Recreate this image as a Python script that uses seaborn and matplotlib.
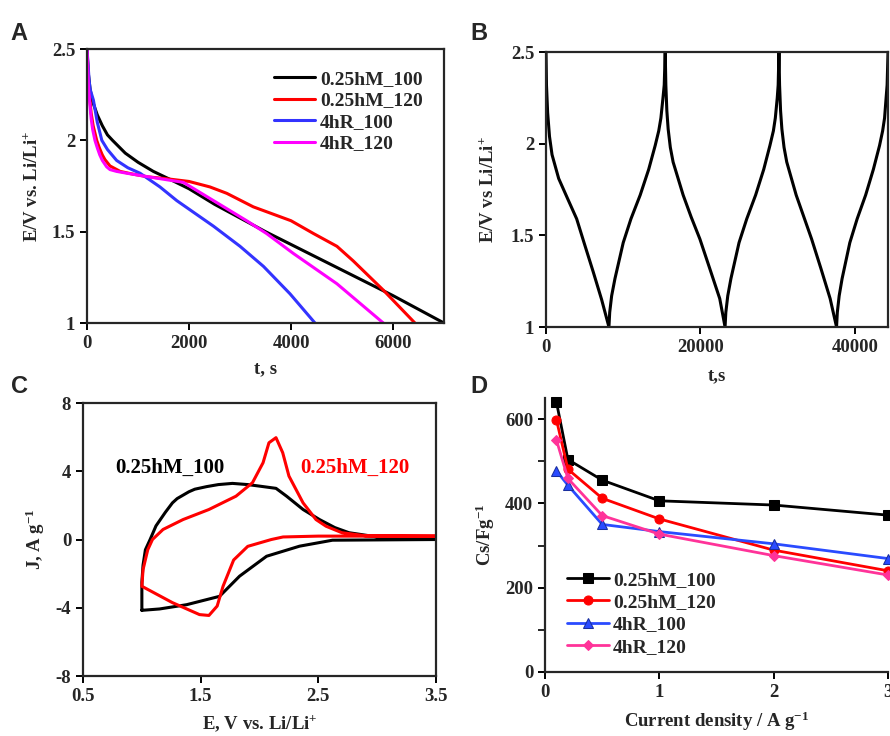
import numpy as np
import pandas as pd
import matplotlib
matplotlib.use("Agg")
import matplotlib.pyplot as plt
import seaborn as sns

# ---------------- Data ----------------
# Panel A: discharge curves (t in s, E in V)
a_labels = ["0.25hM_100", "0.25hM_120", "4hR_100", "4hR_120"]
a_colors = ["#000000", "#ff0000", "#3333ff", "#ff00ff"]
a_t_black = [0, 20, 60, 100, 150, 200, 300, 400, 500, 750, 1000, 1300, 1600, 2000, 2500, 3000, 3500, 4000, 5000, 6000, 7000]
a_v_black = [2.5, 2.38, 2.28, 2.22, 2.18, 2.14, 2.08, 2.03, 2.0, 1.93, 1.88, 1.83, 1.79, 1.735, 1.65, 1.575, 1.5, 1.43, 1.29, 1.15, 1.0]
a_t_red = [0, 30, 80, 120, 190, 240, 300, 350, 450, 650, 900, 1200, 1560, 2000, 2410, 2740, 3260, 4000, 4440, 4900, 5220, 5810, 6430]
a_v_red = [2.5, 2.3, 2.15, 2.08, 2.0, 1.96, 1.92, 1.895, 1.86, 1.83, 1.815, 1.8, 1.79, 1.775, 1.745, 1.71, 1.636, 1.56, 1.49, 1.42, 1.34, 1.18, 1.0]
a_t_blue = [0, 40, 60, 125, 200, 290, 400, 580, 800, 1040, 1430, 1760, 2480, 3000, 3460, 3980, 4470]
a_v_blue = [2.5, 2.33, 2.28, 2.22, 2.1, 2.0, 1.95, 1.89, 1.85, 1.82, 1.745, 1.67, 1.53, 1.42, 1.31, 1.16, 1.0]
a_t_mag = [0, 30, 80, 110, 155, 200, 250, 300, 385, 450, 580, 780, 1300, 1890, 2480, 3130, 3520, 4050, 4900, 5810]
a_v_mag = [2.5, 2.28, 2.12, 2.06, 2.0, 1.96, 1.92, 1.89, 1.855, 1.84, 1.83, 1.82, 1.796, 1.77, 1.67, 1.56, 1.49, 1.38, 1.215, 1.0]

# Panel B: charge/discharge cycling
b_t = [0, 60, 210, 450, 780, 1640, 2800, 3970, 5000, 6120, 7200, 8150,
       8250, 8500, 8930, 10000, 11000, 12200, 13300, 14140, 14600, 14880, 15150, 15310, 15440,
       15520, 15650, 15820, 16100, 16460, 17760, 18800, 19930, 21200, 22500, 23190,
       23290, 23540, 23950, 25000, 26000, 27150, 28200, 29000, 29450, 29700, 29950, 30070, 30170,
       30250, 30380, 30550, 30830, 31180, 32400, 33400, 34400, 35600, 36800, 37630,
       37730, 37970, 38350, 39350, 40300, 41400, 42400, 43200, 43600, 43850, 44050, 44180, 44300]
b_v = [2.5, 2.32, 2.17, 2.04, 1.94, 1.81, 1.70, 1.59, 1.45, 1.30, 1.15, 1.0,
       1.08, 1.17, 1.264, 1.46, 1.59, 1.72, 1.86, 1.99, 2.07, 2.14, 2.25, 2.32, 2.5,
       2.32, 2.18, 2.08, 1.98, 1.90, 1.72, 1.60, 1.48, 1.32, 1.155, 1.0,
       1.08, 1.17, 1.264, 1.46, 1.59, 1.72, 1.86, 1.99, 2.07, 2.14, 2.25, 2.32, 2.5,
       2.32, 2.18, 2.08, 1.98, 1.90, 1.72, 1.60, 1.48, 1.32, 1.155, 1.0,
       1.08, 1.17, 1.264, 1.46, 1.59, 1.72, 1.86, 1.99, 2.07, 2.14, 2.25, 2.32, 2.5]

# Panel C: cyclic voltammograms (E in V, J in A/g)
c_e_black = [1.0, 1.0, 1.01, 1.03, 1.07, 1.12, 1.2, 1.26, 1.3, 1.4, 1.45, 1.55, 1.65, 1.77, 1.9, 2.0, 2.14, 2.23, 2.37, 2.51, 2.64, 2.76, 3.05, 3.5,
             3.5, 2.62, 2.34, 2.06, 1.83, 1.66, 1.38, 1.15, 1.0]
c_j_black = [-4.15, -2.5, -1.5, -0.6, 0.0, 0.8, 1.6, 2.15, 2.4, 2.8, 2.95, 3.1, 3.22, 3.29, 3.22, 3.13, 3.0, 2.54, 1.76, 1.17, 0.7, 0.4, 0.1, 0.0,
             0.0, -0.04, -0.39, -0.98, -2.15, -3.33, -3.82, -4.07, -4.15]
c_e_red = [3.5, 2.9, 2.5, 2.2, 2.1, 1.9, 1.78, 1.69, 1.64, 1.57, 1.49, 1.26, 1.0,
           1.01, 1.05, 1.09, 1.18, 1.35, 1.57, 1.8, 1.94, 2.03, 2.08, 2.14, 2.197, 2.25, 2.37, 2.48, 2.565, 2.7, 2.9, 3.5]
c_j_red = [0.2, 0.2, 0.2, 0.15, 0.0, -0.4, -1.2, -2.74, -3.9, -4.45, -4.4, -3.7, -2.74,
           -1.76, -0.6, 0.0, 0.59, 1.17, 1.76, 2.54, 3.33, 4.5, 5.67, 5.97, 5.09, 3.72, 2.15, 1.17, 0.78, 0.4, 0.22, 0.2]

# Panel D: specific capacitance vs current density
d_current = [0.1, 0.2, 0.5, 1, 2, 3]
d_0p25hM_100 = [640, 504, 455, 406, 396, 372]
d_0p25hM_120 = [598, 481, 412, 363, 289, 240]
d_4hR_100 = [477, 443, 350, 333, 304, 269]
d_4hR_120 = [550, 459, 371, 327, 276, 230]
d_colors = ["#000000", "#ff0000", "#2a4bff", "#ff3399"]
d_markers = ["s", "o", "^", "D"]

# ---------------- Style ----------------
sns.set_style("ticks")
plt.rcParams["font.family"] = ["Liberation Serif", "DejaVu Serif"]
plt.rcParams["font.weight"] = "bold"
plt.rcParams["axes.labelweight"] = "bold"
plt.rcParams["axes.unicode_minus"] = False
plt.rcParams["mathtext.fontset"] = "custom"
plt.rcParams["mathtext.rm"] = "Liberation Serif:bold"
plt.rcParams["mathtext.bf"] = "Liberation Serif:bold"
plt.rcParams["mathtext.it"] = "Liberation Serif:bold:italic"
plt.rcParams["axes.linewidth"] = 1.6
plt.rcParams["xtick.major.width"] = 1.4
plt.rcParams["ytick.major.width"] = 1.4
plt.rcParams["xtick.minor.width"] = 1.4
plt.rcParams["ytick.minor.width"] = 1.4
plt.rcParams["xtick.direction"] = "out"
plt.rcParams["ytick.direction"] = "out"

FS = 13.5
LFS = 14

fig = plt.figure(figsize=(8.9, 7.36), dpi=100)
axA = fig.add_axes([0.0978, 0.5611, 0.4011, 0.3723])
axB = fig.add_axes([0.6135, 0.5557, 0.3843, 0.3736])
axC = fig.add_axes([0.0933, 0.0815, 0.3966, 0.3709])
axD = fig.add_axes([0.6124, 0.0870, 0.3854, 0.3723])

for ax in (axA, axB, axC, axD):
    ax.tick_params(labelsize=FS, length=5, color="black")

line_kw = dict(sort=False, estimator=None, errorbar=None)

# ---- Panel A ----
a_series = [(a_t_black, a_v_black), (a_t_red, a_v_red), (a_t_blue, a_v_blue), (a_t_mag, a_v_mag)]
for (tt, vv), lab, col in zip(a_series, a_labels, a_colors):
    sns.lineplot(x=tt, y=vv, ax=axA, color=col, lw=2.2, label=lab, **line_kw)
axA.set_xlim(0, 7000)
axA.set_ylim(1, 2.5)
axA.set_xticks([0, 2000, 4000, 6000])
axA.set_yticks([1, 1.5, 2, 2.5])
axA.set_yticklabels(["1", "1.5", "2", "2.5"])
axA.set_xlabel("t, s", fontsize=FS, fontweight="bold", labelpad=6)
axA.set_ylabel(r"E/V vs. Li/Li$^{+}$", fontsize=FS, fontweight="bold", labelpad=8)
axA.legend(loc="upper right", frameon=False, handlelength=2.1,
           handletextpad=0.25, labelspacing=0.2, borderaxespad=0.7,
           prop={"weight": "bold", "size": LFS})

# ---- Panel B ----
sns.lineplot(x=b_t, y=b_v, ax=axB, color="black", lw=2.2, **line_kw)
axB.set_xlim(0, 44300)
axB.set_ylim(1, 2.5)
axB.set_xticks([0, 20000, 40000])
axB.set_yticks([1, 1.5, 2, 2.5])
axB.set_yticklabels(["1", "1.5", "2", "2.5"])
axB.set_xlabel("t,s", fontsize=FS, fontweight="bold", labelpad=8)
axB.set_ylabel(r"E/V vs Li/Li$^{+}$", fontsize=FS, fontweight="bold", labelpad=10)

# ---- Panel C ----
sns.lineplot(x=c_e_black, y=c_j_black, ax=axC, color="black", lw=2.2, **line_kw)
sns.lineplot(x=c_e_red, y=c_j_red, ax=axC, color="#ff0000", lw=2.2, **line_kw)
axC.set_xlim(0.5, 3.5)
axC.set_ylim(-8, 8)
axC.set_xticks([0.5, 1.5, 2.5, 3.5])
axC.set_yticks([-8, -4, 0, 4, 8])
axC.set_xlabel(r"E, V vs. Li/Li$^{+}$", fontsize=FS, fontweight="bold", labelpad=6)
axC.set_ylabel(r"J, A g$^{-1}$", fontsize=FS, fontweight="bold", labelpad=6)
axC.text(0.77, 4.2, "0.25hM_100", color="black", fontsize=15, fontweight="bold", va="center", ha="left")
axC.text(2.35, 4.2, "0.25hM_120", color="#ff0000", fontsize=15, fontweight="bold", va="center", ha="left")

# ---- Panel D ----
d_series = [d_0p25hM_100, d_0p25hM_120, d_4hR_100, d_4hR_120]
for vals, lab, col, mk in zip(d_series, a_labels, d_colors, d_markers):
    ms = 6.5 if mk != "D" else 5.5
    sns.lineplot(x=d_current, y=vals, ax=axD, color=col, lw=2.0, marker=mk, markersize=ms,
                 markeredgecolor=col if mk != "^" else "#1a2f9e", label=lab, clip_on=False,
                 **line_kw)
axD.set_xlim(0, 3)
axD.set_ylim(0, 650)
axD.set_xticks([0, 1, 2, 3])
axD.set_yticks([0, 200, 400, 600])
axD.set_yticks([100, 300, 500], minor=True)
axD.tick_params(axis="y", which="minor", length=5)
axD.spines["top"].set_visible(False)
axD.spines["right"].set_visible(False)
axD.set_xlabel(r"Current density / A g$^{-1}$", fontsize=FS, fontweight="bold", labelpad=6)
axD.set_ylabel(r"Cs/Fg$^{-1}$", fontsize=FS, fontweight="bold", labelpad=6)
axD.legend(loc="lower left", frameon=False, handlelength=2.2, handletextpad=0.2,
           labelspacing=0.25, borderaxespad=0.0, bbox_to_anchor=(0.04, 0.03),
           prop={"weight": "bold", "size": LFS})

for ax in (axA, axB, axC, axD):
    for lab in ax.get_xticklabels() + ax.get_yticklabels():
        lab.set_fontweight("bold")

# Panel letters
for x, y, s in [(0.012, 0.955, "A"), (0.528, 0.955, "B"), (0.012, 0.475, "C"), (0.528, 0.475, "D")]:
    fig.text(x, y, s, fontsize=17, fontweight="bold", family="Liberation Sans", va="center")

fig.savefig("out.png", dpi=100)
